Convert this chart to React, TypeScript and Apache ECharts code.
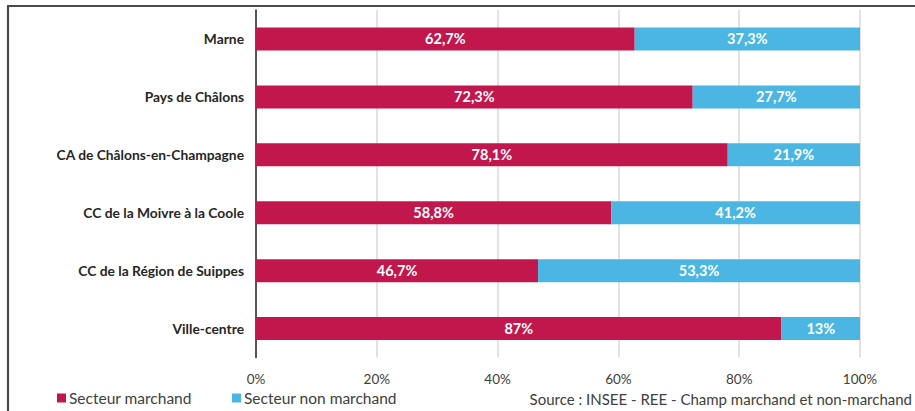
import React, { useEffect, useRef } from "react";
import * as echarts from "echarts";

const categories = [
  "Marne",
  "Pays de Châlons",
  "CA de Châlons-en-Champagne",
  "CC de la Moivre à la Coole",
  "CC de la Région de Suippes",
  "Ville-centre",
];
const marchand = [62.7, 72.3, 78.1, 58.8, 46.7, 87];
const nonMarchand = [37.3, 27.7, 21.9, 41.2, 53.3, 13];
const xTicks = [0, 20, 40, 60, 80, 100];
const seriesNames = ["Secteur marchand", "Secteur non marchand"];
const sourceText = "Source : INSEE - REE - Champ marchand et non-marchand";

const RED = "#C1174D";
const BLUE = "#4BB6E2";
const FONT = "Lato, 'Open Sans', sans-serif";

const fmt = (v: number) => String(v).replace(".", ",") + "%";

export default function App() {
  const ref = useRef<HTMLDivElement>(null);
  useEffect(() => {
    document.body.style.margin = "0";
    if (!ref.current) return;
    const chart = echarts.init(ref.current, undefined, { renderer: "svg" });
    const labelCfg = {
      show: true,
      position: "inside" as const,
      color: "#ffffff",
      fontWeight: "bold" as const,
      fontSize: 14.5,
      fontFamily: FONT,
      formatter: (p: any) => fmt(p.value),
    };
    const legendText = { fontSize: 15.5, color: "#404040", fontFamily: FONT, padding: [0, 0, 0, -2] };
    chart.setOption({
      animation: false,
      textStyle: { fontFamily: FONT },
      grid: { left: 256, right: 55, top: 10, bottom: 53.5, containLabel: false },
      xAxis: {
        type: "value",
        min: xTicks[0],
        max: xTicks[xTicks.length - 1],
        interval: 20,
        axisLine: { show: false },
        axisTick: { show: false },
        splitLine: { show: true, lineStyle: { color: "#d9d9d9", width: 1.5 } },
        axisLabel: {
          color: "#404040",
          fontSize: 13.5,
          fontFamily: FONT,
          margin: 14,
          formatter: (v: number) => v + "%",
        },
      },
      yAxis: {
        type: "category",
        inverse: true,
        data: categories,
        axisLine: { show: true, lineStyle: { color: "#262626", width: 1.5 } },
        axisTick: { show: false },
        axisLabel: {
          color: "#262626",
          fontSize: 13.8,
          fontWeight: "bold",
          fontFamily: FONT,
          margin: 12,
        },
      },
      legend: [
        {
          data: [seriesNames[0]],
          left: 57,
          top: 390,
          itemWidth: 9,
          itemHeight: 9,
          icon: "rect",
          textStyle: legendText,
          padding: 0,
        },
        {
          data: [seriesNames[1]],
          left: 232,
          top: 390,
          itemWidth: 9,
          itemHeight: 9,
          icon: "rect",
          textStyle: legendText,
          padding: 0,
        },
      ],
      graphic: [
        {
          type: "line",
          shape: { x1: 7, y1: 6, x2: 915, y2: 6 },
          style: { stroke: "#4a4a4a", lineWidth: 2.2 },
        },
        {
          type: "line",
          shape: { x1: 8, y1: 6, x2: 8, y2: 411 },
          style: { stroke: "#4a4a4a", lineWidth: 2.2 },
        },
        {
          type: "text",
          right: 3,
          top: 391,
          style: {
            text: sourceText,
            fontSize: 15,
            fill: "#404040",
            fontFamily: FONT,
          },
        },
      ],
      series: [
        {
          name: seriesNames[0],
          type: "bar",
          stack: "total",
          barWidth: 23,
          data: marchand,
          itemStyle: { color: RED },
          label: labelCfg,
        },
        {
          name: seriesNames[1],
          type: "bar",
          stack: "total",
          barWidth: 23,
          data: nonMarchand,
          itemStyle: { color: BLUE },
          label: labelCfg,
        },
      ],
    });
    return () => chart.dispose();
  }, []);
  return <div ref={ref} style={{ width: 915, height: 411 }} />;
}
